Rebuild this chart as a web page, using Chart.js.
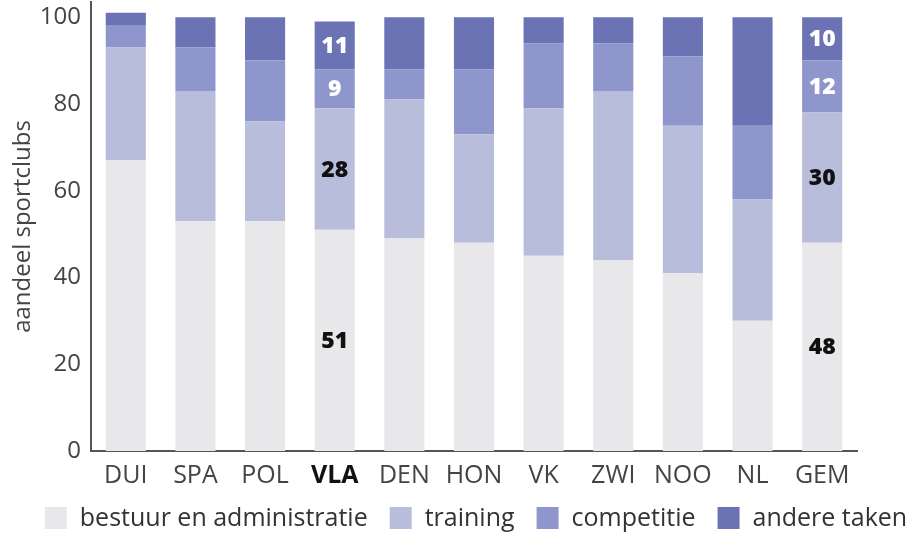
<!DOCTYPE html>
<html>
<head>
<meta charset="utf-8">
<script src="https://cdn.jsdelivr.net/npm/chart.js@4"></script>
<style>
html,body{margin:0;padding:0;background:#fff;}
#wrap{width:912px;height:535px;position:relative;}
</style>
</head>
<body>
<div id="wrap"><canvas id="c" width="912" height="535"></canvas></div>
<script>
const categories = ["DUI","SPA","POL","VLA","DEN","HON","VK","ZWI","NOO","NL","GEM"];
const bestuur    = [67, 53, 53, 51, 49, 48, 45, 44, 41, 30, 48];
const training   = [26, 30, 23, 28, 32, 25, 34, 39, 34, 28, 30];
const competitie = [ 5, 10, 14,  9,  7, 15, 15, 11, 16, 17, 12];
const andere     = [ 3,  7, 10, 11, 12, 12,  6,  6,  9, 25, 10];
const seriesNames = ["bestuur en administratie","training","competitie","andere taken"];
const yTicks = [0, 20, 40, 60, 80, 100];
const labeledCategories = ["VLA","GEM"];

const colors = ["#e8e8eb","#b9bddc","#8f96cb","#6b73b5"];
const labelColors = ["#111","#111","#fff","#fff"];
const FONT = "'Open Sans', sans-serif";

const valueLabels = {
  id: 'valueLabels',
  afterDatasetsDraw(chart) {
    const ctx = chart.ctx;
    ctx.save();
    ctx.font = "800 23px " + FONT;
    ctx.textAlign = 'center';
    ctx.textBaseline = 'middle';
    chart.data.datasets.forEach((ds, di) => {
      const meta = chart.getDatasetMeta(di);
      meta.data.forEach((bar, i) => {
        if (!labeledCategories.includes(categories[i])) return;
        const p = bar.getProps(['x','y','base'], true);
        ctx.fillStyle = labelColors[di];
        ctx.fillText(String(ds.data[i]), p.x, (p.y + p.base) / 2 + 1);
      });
    });
    ctx.restore();
  }
};

// single-row legend drawn below the chart
const rowLegend = {
  id: 'rowLegend',
  afterDraw(chart) {
    const ctx = chart.ctx;
    const box = 22, gapText = 13, gapItem = 22, fontSize = 25;
    ctx.save();
    ctx.font = fontSize + "px " + FONT;
    ctx.textBaseline = 'middle';
    ctx.textAlign = 'left';
    const widths = chart.data.datasets.map(ds => ctx.measureText(ds.label).width);
    let total = 0;
    widths.forEach((w, i) => { total += box + gapText + w + (i < widths.length - 1 ? gapItem : 0); });
    let x = 476 - total / 2;
    const cy = chart.height - 17;
    chart.data.datasets.forEach((ds, i) => {
      ctx.fillStyle = ds.backgroundColor;
      ctx.fillRect(x, cy - box / 2, box, box);
      x += box + gapText;
      ctx.fillStyle = '#333';
      ctx.fillText(ds.label, x, cy + 1);
      x += widths[i] + gapItem;
    });
    ctx.restore();
  }
};

new Chart(document.getElementById('c'), {
  type: 'bar',
  data: {
    labels: categories,
    datasets: [bestuur, training, competitie, andere].map((d, k) => ({
      label: seriesNames[k],
      data: d,
      backgroundColor: colors[k],
      borderWidth: 0,
      barPercentage: 0.576,
      categoryPercentage: 1.0
    }))
  },
  options: {
    responsive: false,
    animation: false,
    layout: { padding: { left: 1, right: 55, top: 2, bottom: 34 } },
    plugins: {
      tooltip: { enabled: false },
      legend: { display: false }
    },
    scales: {
      x: {
        stacked: true,
        grid: { display: false, drawTicks: false },
        border: { display: true, color: '#555', width: 2 },
        ticks: {
          padding: 10,
          font: (ctx) => ({ family: FONT, size: 25, weight: categories[ctx.index] === 'VLA' ? 'bold' : 'normal' }),
          color: (ctx) => categories[ctx.index] === 'VLA' ? '#111' : '#444'
        }
      },
      y: {
        stacked: true,
        min: 0, max: 103.5,
        afterBuildTicks: (axis) => { axis.ticks = yTicks.map(v => ({ value: v })); },
        afterFit: (axis) => { axis.paddingTop = 0; },
        grid: { display: false, drawTicks: false },
        border: { display: true, color: '#555', width: 2 },
        ticks: {
          padding: 10,
          font: { family: FONT, size: 24 },
          color: '#444'
        },
        title: {
          display: true,
          text: 'aandeel sportclubs',
          font: { family: FONT, size: 24 },
          color: '#444',
          padding: { top: 8, bottom: -8 }
        }
      }
    }
  },
  plugins: [valueLabels, rowLegend]
});
</script>
</body>
</html>
